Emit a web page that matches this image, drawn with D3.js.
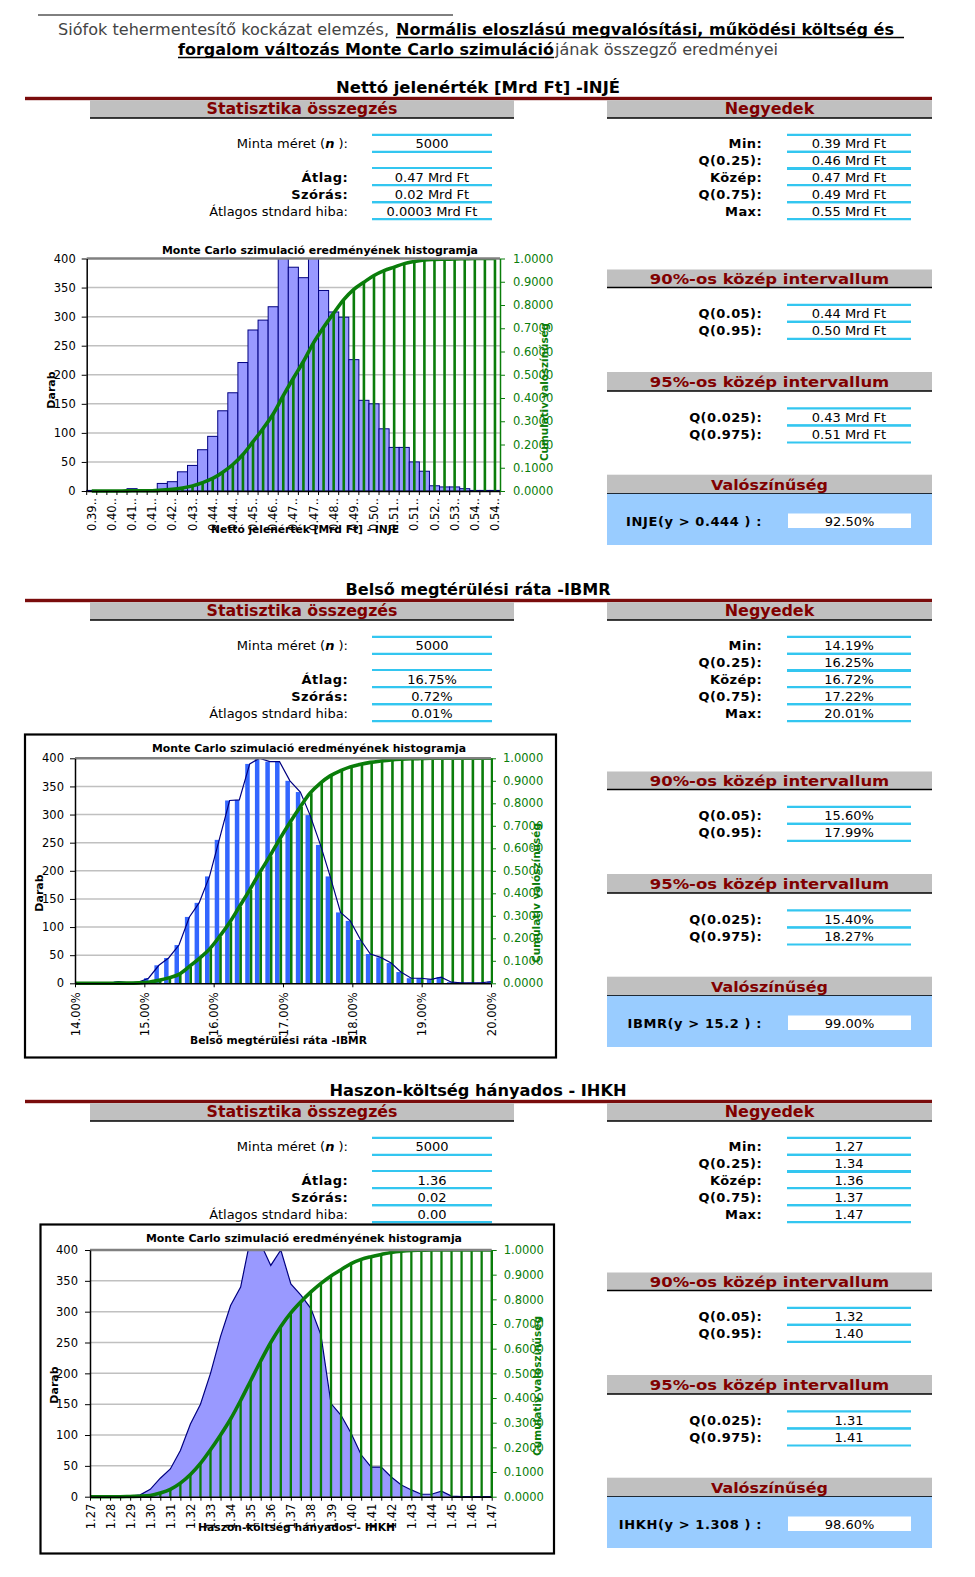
<!DOCTYPE html>
<html><head><meta charset="utf-8"><title>Monte Carlo</title>
<script src="https://cdn.jsdelivr.net/npm/d3@7"></script>
<style>html,body{margin:0;padding:0;background:#fff}svg{display:block}</style>
</head><body><svg id="c" width="975" height="1577"></svg>
<script>
// ---------------- DATA ----------------
const headerNormal1 = "Siófok tehermentesítő kockázat elemzés,";
const headerBold1 = "Normális eloszlású  megvalósítási, működési költség és";
const headerBold2 = "forgalom változás Monte Carlo szimuláció";
const headerNormal2 = "jának összegző eredményei";
const sectionTitles = ["Nettó jelenérték [Mrd Ft] -INJÉ", "Belső megtérülési ráta -IBMR", "Haszon-költség hányados - IHKH"];
const histTitle = "Monte Carlo szimulació eredményének histogramja";
const xTitles = ["Nettó jelenérték [Mrd Ft] - INJE", "Belső megtérülési ráta -IBMR", "Haszon-költség hányados - IHKH"];
const yTitle = "Darab";
const y2Title = "Cumulativ valószínűség";
const countTicks = [0, 50, 100, 150, 200, 250, 300, 350, 400];
const probTicks = [0, 0.1, 0.2, 0.3, 0.4, 0.5, 0.6, 0.7, 0.8, 0.9, 1.0];

const statLabels = ["Minta méret (n ):", "Átlag:", "Szórás:", "Átlagos stndard hiba:"];
const statBold = [false, true, true, false];
const injeStats = ["5000", "0.47 Mrd Ft", "0.02 Mrd Ft", "0.0003 Mrd Ft"];
const ibmrStats = ["5000", "16.75%", "0.72%", "0.01%"];
const ihkhStats = ["5000", "1.36", "0.02", "0.00"];

const quartLabels = ["Min:", "Q(0.25):", "Közép:", "Q(0.75):", "Max:"];
const injeQuart = ["0.39 Mrd Ft", "0.46 Mrd Ft", "0.47 Mrd Ft", "0.49 Mrd Ft", "0.55 Mrd Ft"];
const ibmrQuart = ["14.19%", "16.25%", "16.72%", "17.22%", "20.01%"];
const ihkhQuart = ["1.27", "1.34", "1.36", "1.37", "1.47"];

const int90Title = "90%-os közép intervallum";
const int95Title = "95%-os közép intervallum";
const probTitle = "Valószínűség";
const int90Labels = ["Q(0.05):", "Q(0.95):"];
const int95Labels = ["Q(0.025):", "Q(0.975):"];
const injeInt90 = ["0.44 Mrd Ft", "0.50 Mrd Ft"];
const ibmrInt90 = ["15.60%", "17.99%"];
const ihkhInt90 = ["1.32", "1.40"];
const injeInt95 = ["0.43 Mrd Ft", "0.51 Mrd Ft"];
const ibmrInt95 = ["15.40%", "18.27%"];
const ihkhInt95 = ["1.31", "1.41"];
const probLabels = ["INJE(y > 0.444 ) :", "IBMR(y > 15.2 ) :", "IHKH(y > 1.308 ) :"];
const probValues = ["92.50%", "99.00%", "98.60%"];

// INJE histogram: 41 bins, labels on every 2nd bin
const injeLabels = ["0.39","0.40","0.41","0.41","0.42","0.43","0.44","0.44","0.45","0.46","0.47","0.47","0.48","0.49","0.50","0.51","0.51","0.52","0.53","0.54","0.54"];
const injeCounts = [1,0,0,0,4,0,0,13,16,33,44,71,94,138,169,221,277,294,317,412,385,367,410,345,308,299,226,156,150,107,75,75,50,34,9,7,7,4,1,1,1];
const injeCum = [0,0,0,0,0.001,0.001,0.001,0.004,0.007,0.013,0.022,0.036,0.054,0.081,0.114,0.157,0.212,0.269,0.331,0.41,0.485,0.557,0.637,0.704,0.765,0.823,0.867,0.898,0.927,0.948,0.963,0.978,0.987,0.994,0.996,0.997,0.998,0.999,1,1,1];

// IBMR histogram (%)
const ibmrTicks = [14, 15, 16, 17, 18, 19, 20];
const ibmrBins = [14.19,14.34,14.48,14.63,14.77,14.92,15.06,15.21,15.35,15.50,15.65,15.79,15.94,16.08,16.23,16.37,16.52,16.66,16.81,16.95,17.10,17.25,17.39,17.54,17.68,17.83,17.97,18.12,18.26,18.41,18.56,18.70,18.85,18.99,19.14,19.28,19.43,19.57,19.72,19.86,20.01];
const ibmrCounts = [0,0,0,3,1,2,9,32,45,68,118,143,190,255,325,326,390,400,394,394,360,340,299,246,190,126,111,77,52,46,36,20,9,9,7,11,2,1,1,1,3];
const ibmrCum = [0,0,0,0.001,0.001,0.002,0.005,0.013,0.024,0.04,0.075,0.11,0.152,0.206,0.27,0.34,0.415,0.49,0.565,0.64,0.715,0.785,0.845,0.89,0.922,0.945,0.962,0.974,0.982,0.988,0.993,0.996,0.998,0.999,1,1,1,1,1,1,1];

// IHKH histogram (area)
const ihkhLabels = ["1.27","1.28","1.29","1.30","1.31","1.32","1.33","1.34","1.35","1.36","1.37","1.38","1.39","1.40","1.41","1.42","1.43","1.44","1.45","1.46","1.47"];
const ihkhCounts = [0,0,0,1,1,3,12,30,45,75,118,150,200,260,310,340,420,410,375,400,345,327,305,262,151,132,103,68,48,48,32,19,11,4,4,9,1,0,0,0,0];
const ihkhCum = [0,0,0,0,0.001,0.002,0.005,0.015,0.03,0.055,0.09,0.135,0.19,0.25,0.315,0.39,0.47,0.55,0.625,0.69,0.745,0.79,0.83,0.865,0.895,0.92,0.945,0.962,0.973,0.982,0.99,0.995,0.998,0.999,1,1,1,1,1,1,1];

// ---------------- STYLE / LAYOUT ----------------
const VER = "'DejaVu Sans', Verdana, sans-serif";
const CON = "'DejaVu Sans Condensed', 'Liberation Sans Narrow', 'DejaVu Sans', sans-serif";
const DARKRED = "#800000", CYAN = "#33c6f0", GRAY = "#c0c0c0", GREEN = "#0a7d0a";
const svg = d3.select("#c");
const defs = svg.append("defs");

function txt(g, x, y, s, o = {}) {
  const t = g.append("text").attr("x", x).attr("y", y).text(s)
    .attr("font-family", o.family || VER).attr("font-size", o.size || 13)
    .attr("font-weight", o.weight || "normal").attr("fill", o.fill || "#000")
    .attr("text-anchor", o.anchor || "start");
  if (o.len) t.attr("textLength", o.len).attr("lengthAdjust", "spacingAndGlyphs");
  if (o.family === CON) t.attr("font-stretch", "condensed");
  if (o.ls) t.attr("letter-spacing", o.ls);
  if (o.transform) t.attr("transform", o.transform);
  return t;
}
function hline(g, x0, x1, y, color, w) {
  g.append("line").attr("x1", x0).attr("x2", x1).attr("y1", y).attr("y2", y)
    .attr("stroke", color).attr("stroke-width", w);
}

// ---------------- HEADER ----------------
const hg = svg.append("g");
hline(hg, 38, 453, 15, "#000", 1);
txt(hg, 58, 34.5, headerNormal1, {size: 15, fill: "#444", len: 331});
txt(hg, 396, 34.5, headerBold1, {family: CON, size: 15.5, weight: "bold", len: 498});
hline(hg, 396, 904, 37.5, "#000", 1.5);
txt(hg, 178, 54.5, headerBold2, {family: CON, size: 15.5, weight: "bold", len: 376});
hline(hg, 178, 554, 57.5, "#000", 1.5);
txt(hg, 555, 54.5, headerNormal2, {size: 15, fill: "#444", len: 223});

// ---------------- SECTIONS ----------------
const secOff = [0, 502, 1003];
const secTitleLen = [284, 265, 297];
const statVals = [injeStats, ibmrStats, ihkhStats];
const quartVals = [injeQuart, ibmrQuart, ihkhQuart];
const i90Vals = [injeInt90, ibmrInt90, ihkhInt90];
const i95Vals = [injeInt95, ibmrInt95, ihkhInt95];

function hbox(g, x0, x1, y0, y1, label, fam, size, len) {
  g.append("rect").attr("x", x0).attr("y", y0).attr("width", x1 - x0).attr("height", y1 - y0).attr("fill", GRAY);
  hline(g, x0, x1, y1, "#000", 1.5);
  txt(g, (x0 + x1) / 2, y1 - 3.6, label, {family: fam, size: size, weight: "bold", fill: DARKRED, anchor: "middle", len: len});
}
function rowsBlock(g, labels, values, ys, lx, vx0, vx1, bold) {
  labels.forEach((lab, i) => {
    const y = ys[i];
    hline(g, vx0, vx1, y - 9, CYAN, 2.2);
    hline(g, vx0, vx1, y + 8, CYAN, 2.2);
    if (lab === statLabels[0]) {
      const t = txt(g, lx, y + 4.5, "", {anchor: "end"});
      t.append("tspan").text("Minta méret (");
      t.append("tspan").text("n").attr("font-weight", "bold").attr("font-style", "italic");
      t.append("tspan").text(" ):");
    } else {
      txt(g, lx, y + 4.5, lab, {anchor: "end", weight: bold[i] ? "bold" : "normal", ls: bold[i] ? 0.4 : null});
    }
    txt(g, (vx0 + vx1) / 2, y + 4.5, values[i], {anchor: "middle"});
  });
}

sectionTitles.forEach((title, k) => {
  const g = svg.append("g").attr("transform", `translate(0,${secOff[k]})`);
  txt(g, 478, 93, title, {family: CON, size: 16, weight: "bold", anchor: "middle", len: secTitleLen[k]});
  g.append("rect").attr("x", 25).attr("y", 96.8).attr("width", 907).attr("height", 3.4).attr("fill", "#7a0c0c");
  hbox(g, 90, 514, 100.2, 118, "Statisztika összegzés", CON, 16, 191);
  hbox(g, 607, 932, 100.2, 118, "Negyedek", CON, 16, 89.5);
  rowsBlock(g, statLabels, statVals[k], [143.8, 177, 194.1, 211.2], 348, 372, 492, statBold);
  rowsBlock(g, quartLabels, quartVals[k], [143.8, 160.9, 177, 194.1, 211.2], 762, 787, 911, [1,1,1,1,1]);
  hbox(g, 607, 932, 269.5, 287.6, int90Title, VER, 14.5, 239.5);
  rowsBlock(g, int90Labels, i90Vals[k], [313.8, 330.9], 762, 787, 911, [1,1]);
  hbox(g, 607, 932, 372, 391, int95Title, VER, 14.5, 239.5);
  rowsBlock(g, int95Labels, i95Vals[k], [417.4, 434.5], 762, 787, 911, [1,1]);
  hbox(g, 607, 932, 474.7, 493.8, probTitle, VER, 14.5, 117);
  g.append("rect").attr("x", 607).attr("y", 493.8).attr("width", 325).attr("height", 51.2).attr("fill", "#99ccff");
  txt(g, 762, 525.5, probLabels[k], {anchor: "end", weight: "bold", ls: 0.6});
  g.append("rect").attr("x", 788).attr("y", 513.5).attr("width", 123).attr("height", 14.5).attr("fill", "#fff");
  txt(g, 849.5, 525.5, probValues[k], {anchor: "middle"});
});

// ---------------- CHART HELPERS ----------------
function chartStart(c, id) {
  const y = d3.scaleLinear().domain([0, 400]).range([c.B, c.T]);
  const y2 = d3.scaleLinear().domain([0, 1]).range([c.B, c.T]);
  const g = svg.append("g");
  if (c.border) g.append("rect").attr("x", c.bx0).attr("y", c.by0).attr("width", c.bx1 - c.bx0)
      .attr("height", c.by1 - c.by0).attr("fill", "#fff").attr("stroke", "#000").attr("stroke-width", 2.2);
  countTicks.filter(v => v > 0 && v < 400).forEach(v => hline(g, c.L, c.R, y(v), "#c0c0c0", 1.5));
  defs.append("clipPath").attr("id", id).append("rect").attr("x", c.L - 2).attr("y", c.T)
    .attr("width", c.R - c.L + 4).attr("height", c.B - c.T + 3);
  const m = g.append("g").attr("clip-path", `url(#${id})`);
  return {g, m, y, y2};
}
function chartFinish(c, ch, k) {
  const {g, y, y2} = ch;
  hline(g, c.L, c.R, c.T, "#808080", 2.5);
  const la = g.append("g").attr("transform", `translate(${c.L},0)`)
    .call(d3.axisLeft(y).tickValues(countTicks).tickSize(5).tickSizeOuter(0).tickPadding(c.lpad));
  la.attr("font-family", VER).attr("font-size", 11.5);
  la.selectAll("text").attr("fill", "#000");
  la.selectAll("line").attr("stroke", "#000");
  la.select(".domain").attr("stroke", "#000").attr("stroke-width", 1.5);
  const ra = g.append("g").attr("transform", `translate(${c.R},0)`)
    .call(d3.axisRight(y2).tickValues(probTicks).tickFormat(d3.format(".4f")).tickSize(5).tickSizeOuter(0).tickPadding(c.rpad));
  ra.attr("font-family", VER).attr("font-size", 11.5);
  ra.selectAll("text").attr("fill", GREEN);
  ra.selectAll("line").attr("stroke", GREEN);
  ra.select(".domain").attr("stroke", GREEN).attr("stroke-width", 1.5);
  txt(g, (c.tx0 + c.tx1) / 2, c.ty, histTitle, {size: 11, weight: "bold", anchor: "middle", len: c.tx1 - c.tx0});
  txt(g, 0, 0, yTitle, {size: 11, weight: "bold", anchor: "middle", transform: `translate(${c.dx},${c.dy}) rotate(-90)`});
  txt(g, 0, 0, y2Title, {size: 11, weight: "bold", anchor: "middle", fill: GREEN, len: c.y2len,
      transform: `translate(${c.cx},${c.cy}) rotate(-90)`});
  txt(g, (c.xx0 + c.xx1) / 2, c.xy, xTitles[k], {size: 11, weight: "bold", anchor: "middle", len: c.xx1 - c.xx0});
}
function rotLabels(a, off) {
  a.attr("font-family", VER).attr("font-size", 11.5);
  a.selectAll("text").attr("transform", "rotate(-90)").attr("text-anchor", "end")
    .attr("x", -off).attr("y", 0).attr("dy", "0.35em").attr("fill", "#000");
  a.selectAll("line").attr("stroke", "#000");
  a.select(".domain").attr("stroke", "#000").attr("stroke-width", 1.5);
}
const curve = d3.curveMonotoneX;

// ---------------- CHART 1: INJE (columns) ----------------
(function () {
  const c = {L: 86.7, R: 500, T: 258.5, B: 491, lpad: 6, rpad: 8,
    tx0: 162, tx1: 478, ty: 254, dx: 55, dy: 390, cx: 548, cy: 392, y2len: 138,
    xx0: 211, xx1: 399, xy: 533};
  const ch = chartStart(c, "clip1");
  const x = d3.scaleBand().domain(d3.range(injeCounts.length)).range([c.L, c.R]).padding(0);
  const bw = x.bandwidth();
  ch.m.selectAll("rect.bar").data(injeCounts).join("rect").attr("class", "bar")
    .attr("x", (d, i) => x(i)).attr("y", d => ch.y(d)).attr("width", bw).attr("height", d => c.B - ch.y(d))
    .attr("fill", "#9999ff").attr("stroke", "#000080").attr("stroke-width", 1);
  ch.m.selectAll("line.cum").data(injeCum).join("line").attr("class", "cum")
    .attr("x1", (d, i) => x(i) + bw / 2).attr("x2", (d, i) => x(i) + bw / 2)
    .attr("y1", c.B).attr("y2", d => ch.y2(d)).attr("stroke", GREEN).attr("stroke-width", 2.6);
  ch.m.append("path").datum(injeCum)
    .attr("d", d3.line().x((d, i) => x(i) + bw / 2).y(d => ch.y2(d)).curve(curve))
    .attr("fill", "none").attr("stroke", GREEN).attr("stroke-width", 3.6);
  const tickXs = x.domain().map(i => x(i)).concat([c.R]);
  tickXs.forEach(tx => ch.g.append("line").attr("x1", tx).attr("x2", tx).attr("y1", c.B).attr("y2", c.B + 4).attr("stroke", "#000"));
  const ba = ch.g.append("g").attr("transform", `translate(0,${c.B})`)
    .call(d3.axisBottom(x).tickValues(d3.range(0, injeCounts.length, 2)).tickFormat(i => injeLabels[i / 2] + "..").tickSize(0).tickSizeOuter(0));
  rotLabels(ba, 7);
  chartFinish(c, ch, 0);
})();

// ---------------- CHART 2: IBMR (thin columns + line) ----------------
(function () {
  const c = {L: 75, R: 491, T: 758.3, B: 983.3, lpad: 6, rpad: 7, border: true,
    bx0: 25, by0: 734.5, bx1: 556, by1: 1057.5,
    tx0: 152, tx1: 466, ty: 752, dx: 43, dy: 893, cx: 540, cy: 893, y2len: 140,
    xx0: 190, xx1: 367, xy: 1044};
  const ch = chartStart(c, "clip2");
  const x = d3.scaleLinear().domain([ibmrTicks[0], ibmrTicks[ibmrTicks.length - 1]]).range([c.L, c.R]);
  ch.m.selectAll("rect.bar").data(ibmrCounts).join("rect").attr("class", "bar")
    .attr("x", (d, i) => x(ibmrBins[i]) - 4.5).attr("y", d => ch.y(d)).attr("width", 4.5).attr("height", d => c.B - ch.y(d))
    .attr("fill", "#3366ff");
  ch.m.selectAll("line.cum").data(ibmrCum).join("line").attr("class", "cum")
    .attr("x1", (d, i) => x(ibmrBins[i]) + 1.3).attr("x2", (d, i) => x(ibmrBins[i]) + 1.3)
    .attr("y1", c.B).attr("y2", d => ch.y2(d)).attr("stroke", GREEN).attr("stroke-width", 2.6);
  const x0 = x.domain()[0];
  ch.m.append("path").datum([[x0, 0]].concat(ibmrCounts.map((d, i) => [ibmrBins[i], d])))
    .attr("d", d3.line().x(d => x(d[0])).y(d => ch.y(d[1])))
    .attr("fill", "none").attr("stroke", "#000080").attr("stroke-width", 1.2);
  ch.m.append("path").datum([[x0, 0]].concat(ibmrCum.map((d, i) => [ibmrBins[i], d])))
    .attr("d", d3.line().x(d => x(d[0])).y(d => ch.y2(d[1])).curve(curve))
    .attr("fill", "none").attr("stroke", GREEN).attr("stroke-width", 3.6);
  const ba = ch.g.append("g").attr("transform", `translate(0,${c.B})`)
    .call(d3.axisBottom(x).tickValues(ibmrTicks).tickFormat(d => d.toFixed(2) + "%").tickSize(4).tickSizeOuter(0));
  rotLabels(ba, 9);
  chartFinish(c, ch, 1);
})();

// ---------------- CHART 3: IHKH (area) ----------------
(function () {
  const c = {L: 90, R: 491.7, T: 1250, B: 1496.7, lpad: 7, rpad: 7, border: true,
    bx0: 40.5, by0: 1224.5, bx1: 554, by1: 1553.5,
    tx0: 146, tx1: 462, ty: 1241.5, dx: 58, dy: 1385, cx: 541, cy: 1386, y2len: 140,
    xx0: 198, xx1: 395, xy: 1531};
  const ch = chartStart(c, "clip3");
  const x = d3.scalePoint().domain(d3.range(ihkhCounts.length)).range([c.L, c.R]);
  ch.m.append("path").datum(ihkhCounts)
    .attr("d", d3.area().x((d, i) => x(i)).y0(c.B).y1(d => ch.y(d)))
    .attr("fill", "#9999ff");
  ch.m.append("path").datum(ihkhCounts)
    .attr("d", d3.line().x((d, i) => x(i)).y(d => ch.y(d)))
    .attr("fill", "none").attr("stroke", "#000080").attr("stroke-width", 1.2);
  ch.m.selectAll("line.cum").data(ihkhCum).join("line").attr("class", "cum")
    .attr("x1", (d, i) => x(i)).attr("x2", (d, i) => x(i))
    .attr("y1", c.B).attr("y2", d => ch.y2(d)).attr("stroke", GREEN).attr("stroke-width", 2.3);
  ch.m.append("path").datum(ihkhCum)
    .attr("d", d3.line().x((d, i) => x(i)).y(d => ch.y2(d)).curve(curve))
    .attr("fill", "none").attr("stroke", GREEN).attr("stroke-width", 3.6);
  const ba = ch.g.append("g").attr("transform", `translate(0,${c.B})`)
    .call(d3.axisBottom(x).tickValues(d3.range(ihkhCounts.length)).tickFormat(i => i % 2 ? "" : ihkhLabels[i / 2]).tickSize(4).tickSizeOuter(0));
  rotLabels(ba, 7);
  chartFinish(c, ch, 2);
})();
</script>
</body></html>
